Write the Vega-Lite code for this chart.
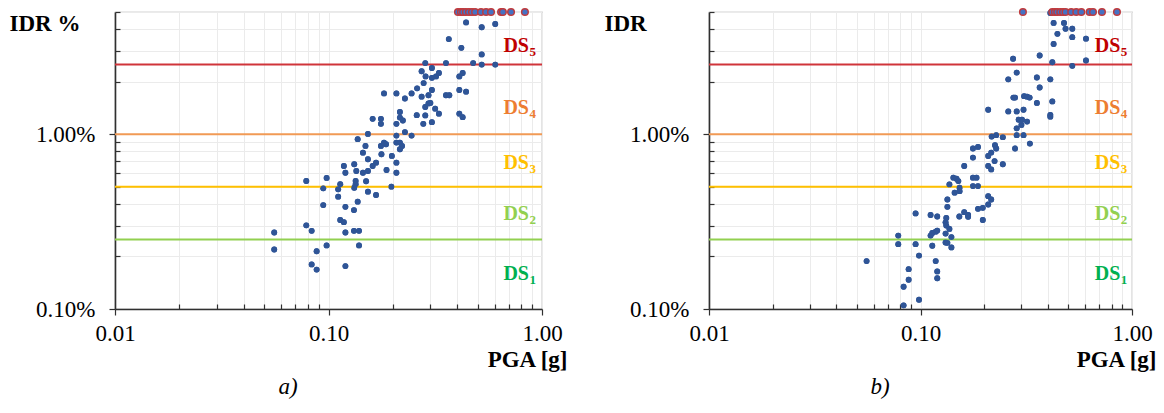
{
  "$schema": "https://vega.github.io/schema/vega-lite/v6.json",
  "background": "white",
  "padding": {"left": 8, "top": 0, "right": 0, "bottom": 0},
  "spacing": 35,
  "config": {
    "font": "Times New Roman, Liberation Serif, serif",
    "view": {"stroke": "#A6A6A6", "strokeWidth": 1.2}
  },
  "datasets": {
    "lines": [
      {"ds": "DS2", "idr": 0.25},
      {"ds": "DS3", "idr": 0.5},
      {"ds": "DS4", "idr": 1},
      {"ds": "DS5", "idr": 2.5}
    ],
    "labels": [
      {"ds": "DS1", "label": "DS", "sub": "1", "idr": 0.158},
      {"ds": "DS2", "label": "DS", "sub": "2", "idr": 0.349},
      {"ds": "DS3", "label": "DS", "sub": "3", "idr": 0.683},
      {"ds": "DS4", "label": "DS", "sub": "4", "idr": 1.41},
      {"ds": "DS5", "label": "DS", "sub": "5", "idr": 3.2}
    ],
    "a": [
      {"pga": 0.404, "idr": 5, "collapse": 1}, {"pga": 0.417, "idr": 5, "collapse": 1}, {"pga": 0.427, "idr": 5, "collapse": 1},
      {"pga": 0.44, "idr": 5, "collapse": 1}, {"pga": 0.455, "idr": 5, "collapse": 1}, {"pga": 0.47, "idr": 5, "collapse": 1},
      {"pga": 0.486, "idr": 5, "collapse": 1}, {"pga": 0.518, "idr": 5, "collapse": 1}, {"pga": 0.547, "idr": 5, "collapse": 1},
      {"pga": 0.577, "idr": 5, "collapse": 1}, {"pga": 0.643, "idr": 5, "collapse": 1}, {"pga": 0.656, "idr": 5, "collapse": 1},
      {"pga": 0.716, "idr": 5, "collapse": 1}, {"pga": 0.832, "idr": 5, "collapse": 1},
      {"pga": 0.441, "idr": 4.36, "collapse": 0}, {"pga": 0.522, "idr": 4.09, "collapse": 0}, {"pga": 0.604, "idr": 4.27, "collapse": 0},
      {"pga": 0.366, "idr": 3.5, "collapse": 0}, {"pga": 0.419, "idr": 3.12, "collapse": 0}, {"pga": 0.522, "idr": 2.86, "collapse": 0},
      {"pga": 0.284, "idr": 2.55, "collapse": 0}, {"pga": 0.355, "idr": 2.55, "collapse": 0}, {"pga": 0.476, "idr": 2.55, "collapse": 0},
      {"pga": 0.522, "idr": 2.5, "collapse": 0}, {"pga": 0.604, "idr": 2.5, "collapse": 0}, {"pga": 0.305, "idr": 2.39, "collapse": 0},
      {"pga": 0.273, "idr": 2.29, "collapse": 0}, {"pga": 0.285, "idr": 2.14, "collapse": 0}, {"pga": 0.305, "idr": 2.1, "collapse": 0},
      {"pga": 0.319, "idr": 2.14, "collapse": 0}, {"pga": 0.329, "idr": 2.24, "collapse": 0}, {"pga": 0.41, "idr": 2.14, "collapse": 0},
      {"pga": 0.425, "idr": 2.24, "collapse": 0}, {"pga": 0.279, "idr": 1.96, "collapse": 0}, {"pga": 0.26, "idr": 1.83, "collapse": 0},
      {"pga": 0.245, "idr": 1.71, "collapse": 0}, {"pga": 0.305, "idr": 1.79, "collapse": 0}, {"pga": 0.294, "idr": 1.67, "collapse": 0},
      {"pga": 0.273, "idr": 1.64, "collapse": 0}, {"pga": 0.182, "idr": 1.71, "collapse": 0}, {"pga": 0.208, "idr": 1.71, "collapse": 0},
      {"pga": 0.228, "idr": 1.6, "collapse": 0}, {"pga": 0.41, "idr": 1.79, "collapse": 0}, {"pga": 0.441, "idr": 1.75, "collapse": 0},
      {"pga": 0.355, "idr": 1.67, "collapse": 0}, {"pga": 0.368, "idr": 1.67, "collapse": 0}, {"pga": 0.284, "idr": 1.43, "collapse": 0},
      {"pga": 0.294, "idr": 1.5, "collapse": 0}, {"pga": 0.3, "idr": 1.51, "collapse": 0}, {"pga": 0.316, "idr": 1.4, "collapse": 0},
      {"pga": 0.329, "idr": 1.31, "collapse": 0}, {"pga": 0.284, "idr": 1.28, "collapse": 0}, {"pga": 0.259, "idr": 1.285, "collapse": 0},
      {"pga": 0.216, "idr": 1.34, "collapse": 0}, {"pga": 0.216, "idr": 1.245, "collapse": 0}, {"pga": 0.223, "idr": 1.197, "collapse": 0},
      {"pga": 0.208, "idr": 1.146, "collapse": 0}, {"pga": 0.278, "idr": 1.146, "collapse": 0}, {"pga": 0.305, "idr": 1.172, "collapse": 0},
      {"pga": 0.161, "idr": 1.224, "collapse": 0}, {"pga": 0.176, "idr": 1.224, "collapse": 0}, {"pga": 0.176, "idr": 1.146, "collapse": 0},
      {"pga": 0.41, "idr": 1.31, "collapse": 0}, {"pga": 0.425, "idr": 1.252, "collapse": 0}, {"pga": 0.153, "idr": 1.004, "collapse": 0},
      {"pga": 0.228, "idr": 1.027, "collapse": 0}, {"pga": 0.245, "idr": 0.982, "collapse": 0}, {"pga": 0.208, "idr": 0.982, "collapse": 0},
      {"pga": 0.137, "idr": 0.936, "collapse": 0}, {"pga": 0.149, "idr": 0.857, "collapse": 0}, {"pga": 0.176, "idr": 0.857, "collapse": 0},
      {"pga": 0.182, "idr": 0.895, "collapse": 0}, {"pga": 0.186, "idr": 0.876, "collapse": 0}, {"pga": 0.208, "idr": 0.895, "collapse": 0},
      {"pga": 0.216, "idr": 0.895, "collapse": 0}, {"pga": 0.221, "idr": 0.857, "collapse": 0}, {"pga": 0.216, "idr": 0.82, "collapse": 0},
      {"pga": 0.145, "idr": 0.784, "collapse": 0}, {"pga": 0.177, "idr": 0.768, "collapse": 0}, {"pga": 0.198, "idr": 0.751, "collapse": 0},
      {"pga": 0.153, "idr": 0.719, "collapse": 0}, {"pga": 0.167, "idr": 0.687, "collapse": 0}, {"pga": 0.208, "idr": 0.687, "collapse": 0},
      {"pga": 0.132, "idr": 0.673, "collapse": 0}, {"pga": 0.118, "idr": 0.658, "collapse": 0}, {"pga": 0.161, "idr": 0.658, "collapse": 0},
      {"pga": 0.153, "idr": 0.616, "collapse": 0}, {"pga": 0.145, "idr": 0.602, "collapse": 0}, {"pga": 0.135, "idr": 0.616, "collapse": 0},
      {"pga": 0.12, "idr": 0.602, "collapse": 0}, {"pga": 0.187, "idr": 0.624, "collapse": 0}, {"pga": 0.208, "idr": 0.602, "collapse": 0},
      {"pga": 0.0787, "idr": 0.54, "collapse": 0}, {"pga": 0.098, "idr": 0.562, "collapse": 0}, {"pga": 0.1135, "idr": 0.517, "collapse": 0},
      {"pga": 0.134, "idr": 0.54, "collapse": 0}, {"pga": 0.15, "idr": 0.538, "collapse": 0}, {"pga": 0.134, "idr": 0.517, "collapse": 0},
      {"pga": 0.132, "idr": 0.494, "collapse": 0}, {"pga": 0.0945, "idr": 0.49, "collapse": 0}, {"pga": 0.111, "idr": 0.484, "collapse": 0},
      {"pga": 0.197, "idr": 0.501, "collapse": 0}, {"pga": 0.153, "idr": 0.469, "collapse": 0}, {"pga": 0.167, "idr": 0.449, "collapse": 0},
      {"pga": 0.111, "idr": 0.439, "collapse": 0}, {"pga": 0.137, "idr": 0.411, "collapse": 0}, {"pga": 0.0945, "idr": 0.393, "collapse": 0},
      {"pga": 0.12, "idr": 0.384, "collapse": 0}, {"pga": 0.1316, "idr": 0.368, "collapse": 0}, {"pga": 0.1135, "idr": 0.323, "collapse": 0},
      {"pga": 0.118, "idr": 0.314, "collapse": 0}, {"pga": 0.0787, "idr": 0.301, "collapse": 0}, {"pga": 0.0834, "idr": 0.28, "collapse": 0},
      {"pga": 0.12, "idr": 0.274, "collapse": 0}, {"pga": 0.1316, "idr": 0.28, "collapse": 0}, {"pga": 0.139, "idr": 0.28, "collapse": 0},
      {"pga": 0.0557, "idr": 0.274, "collapse": 0}, {"pga": 0.0557, "idr": 0.219, "collapse": 0}, {"pga": 0.098, "idr": 0.231, "collapse": 0},
      {"pga": 0.139, "idr": 0.231, "collapse": 0}, {"pga": 0.088, "idr": 0.214, "collapse": 0}, {"pga": 0.0834, "idr": 0.18, "collapse": 0},
      {"pga": 0.088, "idr": 0.168, "collapse": 0}, {"pga": 0.12, "idr": 0.176, "collapse": 0}
    ],
    "b": [
      {"pga": 0.305, "idr": 5, "collapse": 1}, {"pga": 0.42, "idr": 5, "collapse": 1}, {"pga": 0.432, "idr": 5, "collapse": 1},
      {"pga": 0.443, "idr": 5, "collapse": 1}, {"pga": 0.458, "idr": 5, "collapse": 1}, {"pga": 0.472, "idr": 5, "collapse": 1},
      {"pga": 0.485, "idr": 5, "collapse": 1}, {"pga": 0.516, "idr": 5, "collapse": 1}, {"pga": 0.545, "idr": 5, "collapse": 1},
      {"pga": 0.576, "idr": 5, "collapse": 1}, {"pga": 0.63, "idr": 5, "collapse": 1}, {"pga": 0.654, "idr": 5, "collapse": 1},
      {"pga": 0.721, "idr": 5, "collapse": 1}, {"pga": 0.849, "idr": 5, "collapse": 1},
      {"pga": 0.411, "idr": 4.94, "collapse": 0}, {"pga": 0.426, "idr": 4.33, "collapse": 0}, {"pga": 0.477, "idr": 4.33, "collapse": 0},
      {"pga": 0.485, "idr": 4.01, "collapse": 0}, {"pga": 0.522, "idr": 4.01, "collapse": 0}, {"pga": 0.444, "idr": 3.75, "collapse": 0},
      {"pga": 0.522, "idr": 3.59, "collapse": 0}, {"pga": 0.606, "idr": 3.52, "collapse": 0}, {"pga": 0.426, "idr": 3.28, "collapse": 0},
      {"pga": 0.366, "idr": 2.82, "collapse": 0}, {"pga": 0.274, "idr": 2.7, "collapse": 0}, {"pga": 0.42, "idr": 2.58, "collapse": 0},
      {"pga": 0.606, "idr": 2.64, "collapse": 0}, {"pga": 0.522, "idr": 2.46, "collapse": 0}, {"pga": 0.285, "idr": 2.25, "collapse": 0},
      {"pga": 0.26, "idr": 2.06, "collapse": 0}, {"pga": 0.355, "idr": 2.11, "collapse": 0}, {"pga": 0.411, "idr": 2.06, "collapse": 0},
      {"pga": 0.366, "idr": 1.85, "collapse": 0}, {"pga": 0.275, "idr": 1.62, "collapse": 0}, {"pga": 0.28, "idr": 1.62, "collapse": 0},
      {"pga": 0.309, "idr": 1.65, "collapse": 0}, {"pga": 0.319, "idr": 1.64, "collapse": 0}, {"pga": 0.328, "idr": 1.62, "collapse": 0},
      {"pga": 0.355, "idr": 1.51, "collapse": 0}, {"pga": 0.42, "idr": 1.54, "collapse": 0}, {"pga": 0.209, "idr": 1.38, "collapse": 0},
      {"pga": 0.26, "idr": 1.35, "collapse": 0}, {"pga": 0.285, "idr": 1.35, "collapse": 0}, {"pga": 0.307, "idr": 1.38, "collapse": 0},
      {"pga": 0.411, "idr": 1.29, "collapse": 0}, {"pga": 0.411, "idr": 1.26, "collapse": 0}, {"pga": 0.291, "idr": 1.21, "collapse": 0},
      {"pga": 0.302, "idr": 1.21, "collapse": 0}, {"pga": 0.319, "idr": 1.18, "collapse": 0}, {"pga": 0.3, "idr": 1.13, "collapse": 0},
      {"pga": 0.285, "idr": 1.08, "collapse": 0}, {"pga": 0.217, "idr": 0.97, "collapse": 0}, {"pga": 0.228, "idr": 0.987, "collapse": 0},
      {"pga": 0.245, "idr": 0.961, "collapse": 0}, {"pga": 0.285, "idr": 0.987, "collapse": 0}, {"pga": 0.307, "idr": 0.987, "collapse": 0},
      {"pga": 0.329, "idr": 0.884, "collapse": 0}, {"pga": 0.177, "idr": 0.828, "collapse": 0}, {"pga": 0.187, "idr": 0.846, "collapse": 0},
      {"pga": 0.225, "idr": 0.865, "collapse": 0}, {"pga": 0.228, "idr": 0.828, "collapse": 0}, {"pga": 0.28, "idr": 0.828, "collapse": 0},
      {"pga": 0.177, "idr": 0.735, "collapse": 0}, {"pga": 0.209, "idr": 0.75, "collapse": 0}, {"pga": 0.216, "idr": 0.785, "collapse": 0},
      {"pga": 0.224, "idr": 0.702, "collapse": 0}, {"pga": 0.245, "idr": 0.673, "collapse": 0}, {"pga": 0.161, "idr": 0.658, "collapse": 0},
      {"pga": 0.209, "idr": 0.658, "collapse": 0}, {"pga": 0.216, "idr": 0.629, "collapse": 0}, {"pga": 0.143, "idr": 0.564, "collapse": 0},
      {"pga": 0.148, "idr": 0.556, "collapse": 0}, {"pga": 0.151, "idr": 0.539, "collapse": 0}, {"pga": 0.177, "idr": 0.564, "collapse": 0},
      {"pga": 0.184, "idr": 0.564, "collapse": 0}, {"pga": 0.137, "idr": 0.516, "collapse": 0}, {"pga": 0.153, "idr": 0.494, "collapse": 0},
      {"pga": 0.153, "idr": 0.472, "collapse": 0}, {"pga": 0.177, "idr": 0.505, "collapse": 0}, {"pga": 0.187, "idr": 0.505, "collapse": 0},
      {"pga": 0.145, "idr": 0.463, "collapse": 0}, {"pga": 0.209, "idr": 0.442, "collapse": 0}, {"pga": 0.216, "idr": 0.423, "collapse": 0},
      {"pga": 0.209, "idr": 0.396, "collapse": 0}, {"pga": 0.134, "idr": 0.423, "collapse": 0}, {"pga": 0.134, "idr": 0.384, "collapse": 0},
      {"pga": 0.197, "idr": 0.379, "collapse": 0}, {"pga": 0.0948, "idr": 0.352, "collapse": 0}, {"pga": 0.1116, "idr": 0.345, "collapse": 0},
      {"pga": 0.12, "idr": 0.338, "collapse": 0}, {"pga": 0.1324, "idr": 0.332, "collapse": 0}, {"pga": 0.1526, "idr": 0.338, "collapse": 0},
      {"pga": 0.161, "idr": 0.358, "collapse": 0}, {"pga": 0.168, "idr": 0.345, "collapse": 0}, {"pga": 0.168, "idr": 0.337, "collapse": 0},
      {"pga": 0.187, "idr": 0.374, "collapse": 0}, {"pga": 0.197, "idr": 0.323, "collapse": 0}, {"pga": 0.1314, "idr": 0.313, "collapse": 0},
      {"pga": 0.1324, "idr": 0.3, "collapse": 0}, {"pga": 0.137, "idr": 0.287, "collapse": 0}, {"pga": 0.118, "idr": 0.277, "collapse": 0},
      {"pga": 0.12, "idr": 0.281, "collapse": 0}, {"pga": 0.1137, "idr": 0.272, "collapse": 0}, {"pga": 0.1116, "idr": 0.263, "collapse": 0},
      {"pga": 0.1314, "idr": 0.27, "collapse": 0}, {"pga": 0.14, "idr": 0.258, "collapse": 0}, {"pga": 0.0785, "idr": 0.263, "collapse": 0},
      {"pga": 0.0785, "idr": 0.235, "collapse": 0}, {"pga": 0.0948, "idr": 0.235, "collapse": 0}, {"pga": 0.1137, "idr": 0.23, "collapse": 0},
      {"pga": 0.1314, "idr": 0.24, "collapse": 0}, {"pga": 0.134, "idr": 0.239, "collapse": 0}, {"pga": 0.14, "idr": 0.225, "collapse": 0},
      {"pga": 0.0984, "idr": 0.202, "collapse": 0}, {"pga": 0.0556, "idr": 0.188, "collapse": 0}, {"pga": 0.118, "idr": 0.188, "collapse": 0},
      {"pga": 0.0879, "idr": 0.169, "collapse": 0}, {"pga": 0.12, "idr": 0.164, "collapse": 0}, {"pga": 0.0879, "idr": 0.147, "collapse": 0},
      {"pga": 0.12, "idr": 0.15, "collapse": 0}, {"pga": 0.0832, "idr": 0.134, "collapse": 0}, {"pga": 0.0832, "idr": 0.105, "collapse": 0},
      {"pga": 0.0984, "idr": 0.113, "collapse": 0}
    ]
  },
  "hconcat": [
    {
      "width": 427,
      "height": 297,
      "title": {"text": "a)", "orient": "bottom", "anchor": "middle", "frame": "bounds", "font": "Times New Roman, Liberation Serif, serif", "fontStyle": "italic", "fontWeight": "normal", "fontSize": 23, "color": "black", "offset": 5},
      "resolve": {"scale": {"color": "independent"}},
      "layer": [
        {
          "data": {"name": "a"},
          "transform": [{"filter": "datum.collapse == 0"}],
          "mark": {"type": "circle", "size": 34, "opacity": 1, "color": "#2F5597"},
          "encoding": {
            "x": {"field": "pga", "type": "quantitative", "scale": {"type": "log", "domain": [0.01, 1], "nice": false},
              "axis": {"orient": "bottom", "values": [0.01, 0.02, 0.03, 0.04, 0.05, 0.06, 0.07, 0.08, 0.09, 0.1, 0.2, 0.3, 0.4, 0.5, 0.6, 0.7, 0.8, 0.9, 1],
                "labelExpr": "datum.value == 0.01 ? '0.01' : datum.value == 0.1 ? '0.10' : datum.value == 1 ? '1.00' : ''",
                "labelFont": "Times New Roman, Liberation Serif, serif", "labelFontSize": 23, "labelColor": "black", "labelOverlap": false, "labelBound": false, "labelFlush": false, "labelPadding": 7,
                "tickSize": {"condition": {"test": "datum.value == 0.01 || datum.value == 0.1 || datum.value == 1", "value": 6}, "value": -5},
                "tickColor": "#303030", "tickWidth": 1.2, "domainColor": "#303030", "domainWidth": 1.6,
                "grid": true, "gridColor": "#EBEBEB", "gridWidth": 1,
                "title": "PGA [g]", "titleFont": "Times New Roman, Liberation Serif, serif", "titleFontSize": 23, "titleFontWeight": "bold", "titleColor": "black",
                "titleAlign": "right", "titleAnchor": "start", "titleX": 452, "titleY": 50, "titleBaseline": "middle"}},
            "y": {"field": "idr", "type": "quantitative", "scale": {"type": "log", "domain": [0.1, 5], "nice": false},
              "axis": {"orient": "left", "values": [0.1, 0.2, 0.3, 0.4, 0.5, 0.6, 0.7, 0.8, 0.9, 1, 2, 3, 4, 5],
                "labelExpr": "datum.value == 0.1 ? '0.10%' : datum.value == 1 ? '1.00%' : ''",
                "labelFont": "Times New Roman, Liberation Serif, serif", "labelFontSize": 23, "labelColor": "black", "labelOverlap": false, "labelBound": false, "labelFlush": false, "labelPadding": 14,
                "tickSize": {"condition": {"test": "datum.value == 0.1 || datum.value == 1", "value": 6}, "value": -5},
                "tickColor": "#303030", "tickWidth": 1.2, "domainColor": "#303030", "domainWidth": 1.6,
                "grid": true, "gridColor": "#EBEBEB", "gridWidth": 1,
                "title": "IDR %", "titleFont": "Times New Roman, Liberation Serif, serif", "titleFontSize": 23, "titleFontWeight": "bold", "titleColor": "black",
                "titleAngle": 0, "titleAlign": "left", "titleBaseline": "middle", "titleX": -106, "titleY": 11}}
          }
        },
        {
          "data": {"name": "lines"},
          "mark": {"type": "rule", "strokeWidth": 2},
          "encoding": {
            "y": {"field": "idr", "type": "quantitative"},
            "color": {"field": "ds", "type": "nominal", "scale": {"domain": ["DS2", "DS3", "DS4", "DS5"], "range": ["#92D050", "#FFC000", "#F19A55", "#D0343A"]}, "legend": null}
          }
        },
        {
          "data": {"name": "a"},
          "transform": [{"filter": "datum.collapse == 0"}],
          "mark": {"type": "circle", "size": 34, "opacity": 1, "color": "#2F5597"},
          "encoding": {
            "x": {"field": "pga", "type": "quantitative"},
            "y": {"field": "idr", "type": "quantitative"}
          }
        },
        {
          "data": {"name": "a"},
          "transform": [{"filter": "datum.collapse == 1"}],
          "mark": {"type": "circle", "size": 44, "opacity": 1, "fill": "#4472C4", "stroke": "#C0393B", "strokeWidth": 1.4},
          "encoding": {
            "x": {"field": "pga", "type": "quantitative"},
            "y": {"field": "idr", "type": "quantitative"}
          }
        },
        {
          "data": {"name": "labels"},
          "mark": {"type": "text", "align": "right", "baseline": "middle", "font": "Times New Roman, Liberation Serif, serif", "fontWeight": "bold", "fontSize": 20},
          "encoding": {
            "x": {"datum": 0.869, "type": "quantitative"},
            "y": {"field": "idr", "type": "quantitative"},
            "text": {"field": "label"},
            "color": {"field": "ds", "type": "nominal", "scale": {"domain": ["DS1", "DS2", "DS3", "DS4", "DS5"], "range": ["#00B050", "#92D050", "#FFC000", "#ED7D31", "#C00000"]}, "legend": null}
          }
        },
        {
          "data": {"name": "labels"},
          "mark": {"type": "text", "align": "left", "baseline": "middle", "font": "Times New Roman, Liberation Serif, serif", "fontWeight": "bold", "fontSize": 13, "dx": 0.5, "dy": 6},
          "encoding": {
            "x": {"datum": 0.869, "type": "quantitative"},
            "y": {"field": "idr", "type": "quantitative"},
            "text": {"field": "sub"},
            "color": {"field": "ds", "type": "nominal", "scale": {"domain": ["DS1", "DS2", "DS3", "DS4", "DS5"], "range": ["#00B050", "#92D050", "#FFC000", "#ED7D31", "#C00000"]}, "legend": null}
          }
        }
      ]
    },
    {
      "width": 423,
      "height": 297,
      "title": {"text": "b)", "orient": "bottom", "anchor": "middle", "frame": "bounds", "font": "Times New Roman, Liberation Serif, serif", "fontStyle": "italic", "fontWeight": "normal", "fontSize": 23, "color": "black", "offset": 5},
      "resolve": {"scale": {"color": "independent"}},
      "layer": [
        {
          "data": {"name": "b"},
          "transform": [{"filter": "datum.collapse == 0"}],
          "mark": {"type": "circle", "size": 34, "opacity": 1, "color": "#2F5597"},
          "encoding": {
            "x": {"field": "pga", "type": "quantitative", "scale": {"type": "log", "domain": [0.01, 1], "nice": false},
              "axis": {"orient": "bottom", "values": [0.01, 0.02, 0.03, 0.04, 0.05, 0.06, 0.07, 0.08, 0.09, 0.1, 0.2, 0.3, 0.4, 0.5, 0.6, 0.7, 0.8, 0.9, 1],
                "labelExpr": "datum.value == 0.01 ? '0.01' : datum.value == 0.1 ? '0.10' : datum.value == 1 ? '1.00' : ''",
                "labelFont": "Times New Roman, Liberation Serif, serif", "labelFontSize": 23, "labelColor": "black", "labelOverlap": false, "labelBound": false, "labelFlush": false, "labelPadding": 7,
                "tickSize": {"condition": {"test": "datum.value == 0.01 || datum.value == 0.1 || datum.value == 1", "value": 6}, "value": -5},
                "tickColor": "#303030", "tickWidth": 1.2, "domainColor": "#303030", "domainWidth": 1.6,
                "grid": true, "gridColor": "#EBEBEB", "gridWidth": 1,
                "title": "PGA [g]", "titleFont": "Times New Roman, Liberation Serif, serif", "titleFontSize": 23, "titleFontWeight": "bold", "titleColor": "black",
                "titleAlign": "right", "titleAnchor": "start", "titleX": 447, "titleY": 50, "titleBaseline": "middle"}},
            "y": {"field": "idr", "type": "quantitative", "scale": {"type": "log", "domain": [0.1, 5], "nice": false},
              "axis": {"orient": "left", "values": [0.1, 0.2, 0.3, 0.4, 0.5, 0.6, 0.7, 0.8, 0.9, 1, 2, 3, 4, 5],
                "labelExpr": "datum.value == 0.1 ? '0.10%' : datum.value == 1 ? '1.00%' : ''",
                "labelFont": "Times New Roman, Liberation Serif, serif", "labelFontSize": 23, "labelColor": "black", "labelOverlap": false, "labelBound": false, "labelFlush": false, "labelPadding": 14,
                "tickSize": {"condition": {"test": "datum.value == 0.1 || datum.value == 1", "value": 6}, "value": -5},
                "tickColor": "#303030", "tickWidth": 1.2, "domainColor": "#303030", "domainWidth": 1.6,
                "grid": true, "gridColor": "#EBEBEB", "gridWidth": 1,
                "title": "IDR", "titleFont": "Times New Roman, Liberation Serif, serif", "titleFontSize": 23, "titleFontWeight": "bold", "titleColor": "black",
                "titleAngle": 0, "titleAlign": "left", "titleBaseline": "middle", "titleX": -105, "titleY": 11}}
          }
        },
        {
          "data": {"name": "lines"},
          "mark": {"type": "rule", "strokeWidth": 2},
          "encoding": {
            "y": {"field": "idr", "type": "quantitative"},
            "color": {"field": "ds", "type": "nominal", "scale": {"domain": ["DS2", "DS3", "DS4", "DS5"], "range": ["#92D050", "#FFC000", "#F19A55", "#D0343A"]}, "legend": null}
          }
        },
        {
          "data": {"name": "b"},
          "transform": [{"filter": "datum.collapse == 0"}],
          "mark": {"type": "circle", "size": 34, "opacity": 1, "color": "#2F5597"},
          "encoding": {
            "x": {"field": "pga", "type": "quantitative"},
            "y": {"field": "idr", "type": "quantitative"}
          }
        },
        {
          "data": {"name": "b"},
          "transform": [{"filter": "datum.collapse == 1"}],
          "mark": {"type": "circle", "size": 44, "opacity": 1, "fill": "#4472C4", "stroke": "#C0393B", "strokeWidth": 1.4},
          "encoding": {
            "x": {"field": "pga", "type": "quantitative"},
            "y": {"field": "idr", "type": "quantitative"}
          }
        },
        {
          "data": {"name": "labels"},
          "mark": {"type": "text", "align": "right", "baseline": "middle", "font": "Times New Roman, Liberation Serif, serif", "fontWeight": "bold", "fontSize": 20},
          "encoding": {
            "x": {"datum": 0.881, "type": "quantitative"},
            "y": {"field": "idr", "type": "quantitative"},
            "text": {"field": "label"},
            "color": {"field": "ds", "type": "nominal", "scale": {"domain": ["DS1", "DS2", "DS3", "DS4", "DS5"], "range": ["#00B050", "#92D050", "#FFC000", "#ED7D31", "#C00000"]}, "legend": null}
          }
        },
        {
          "data": {"name": "labels"},
          "mark": {"type": "text", "align": "left", "baseline": "middle", "font": "Times New Roman, Liberation Serif, serif", "fontWeight": "bold", "fontSize": 13, "dx": 0.5, "dy": 6},
          "encoding": {
            "x": {"datum": 0.881, "type": "quantitative"},
            "y": {"field": "idr", "type": "quantitative"},
            "text": {"field": "sub"},
            "color": {"field": "ds", "type": "nominal", "scale": {"domain": ["DS1", "DS2", "DS3", "DS4", "DS5"], "range": ["#00B050", "#92D050", "#FFC000", "#ED7D31", "#C00000"]}, "legend": null}
          }
        }
      ]
    }
  ]
}
